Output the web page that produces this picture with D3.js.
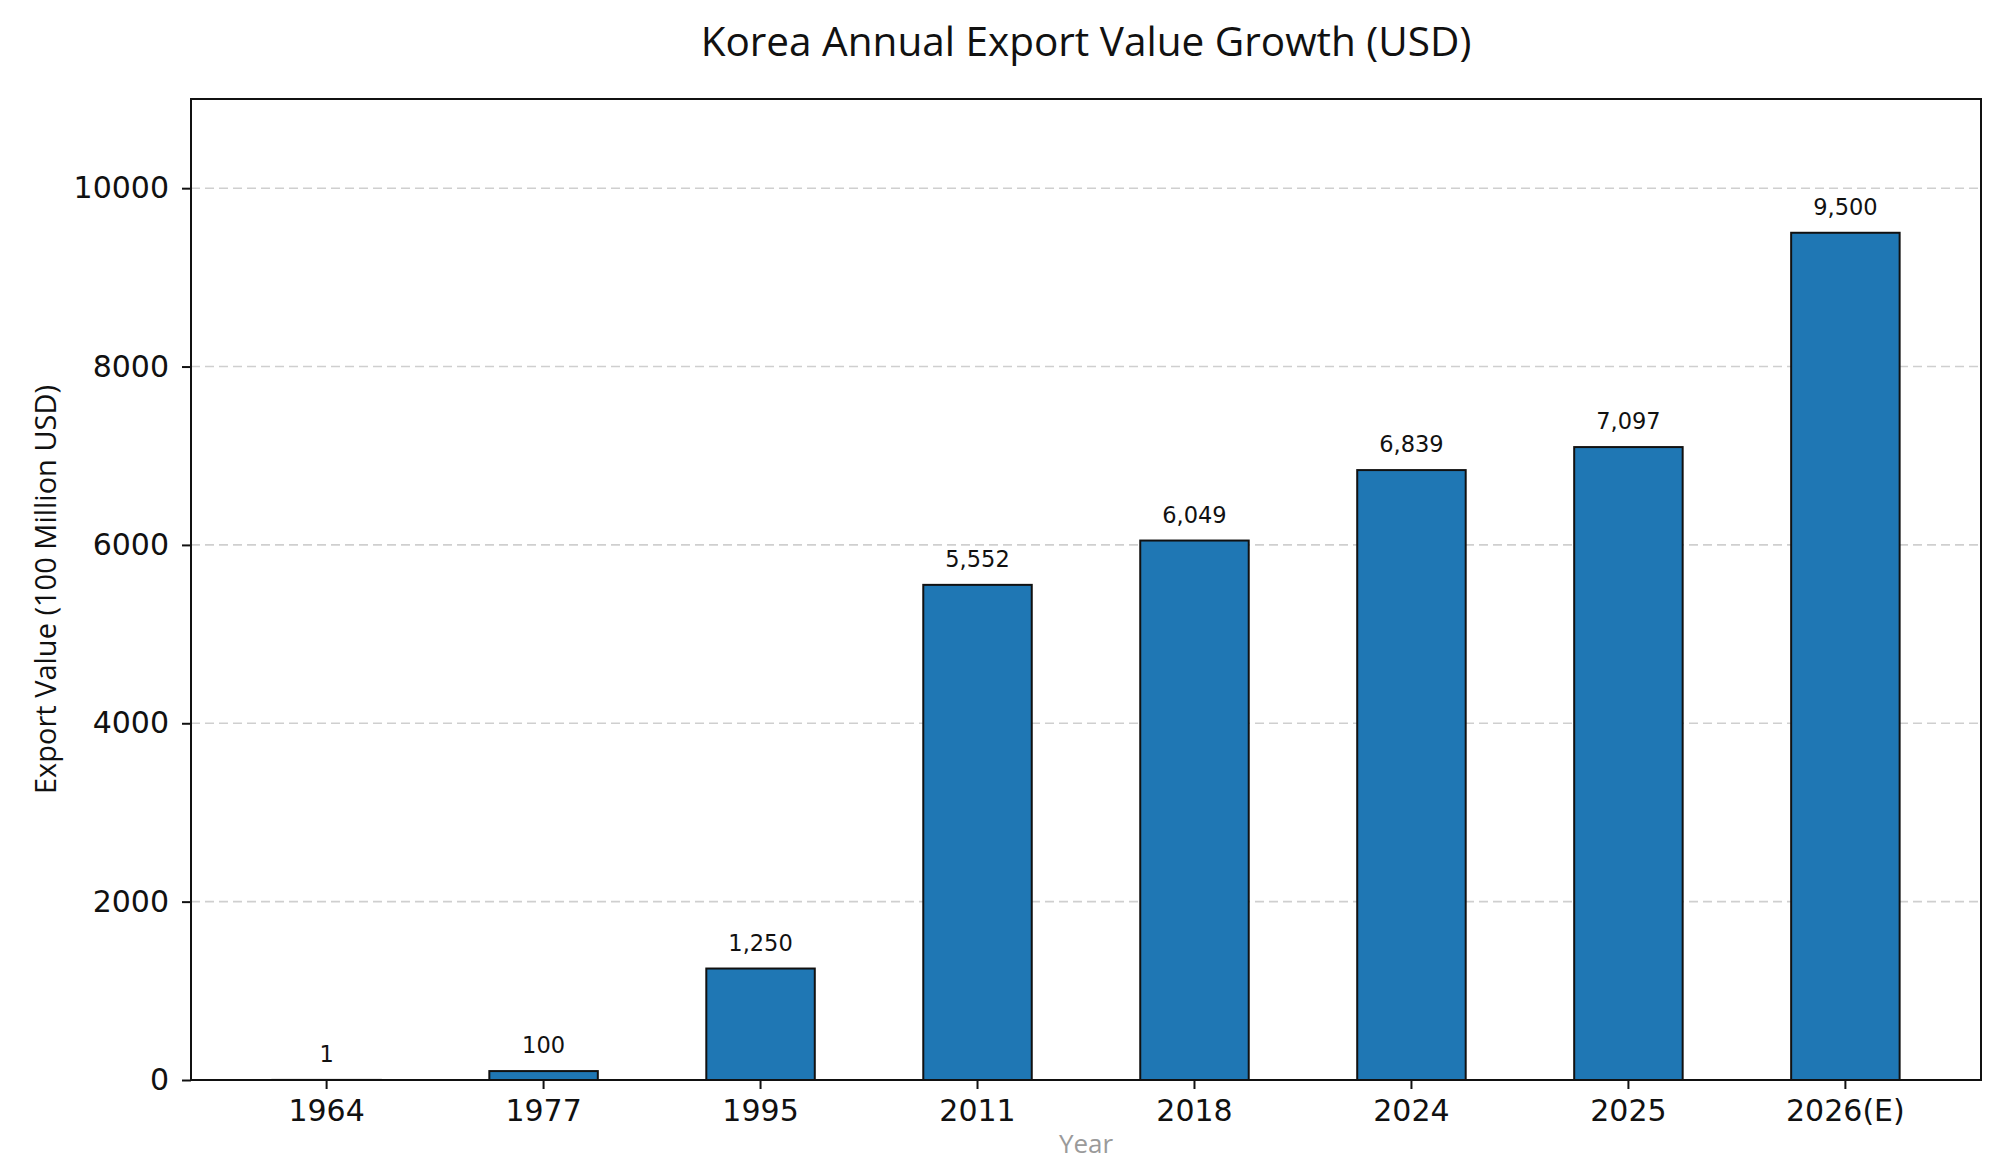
<!DOCTYPE html>
<html>
<head>
<meta charset="utf-8">
<script src="https://cdn.jsdelivr.net/npm/d3@7"></script>
<style>
  body { margin: 0; background: #fff; }
  svg { display: block; }
  svg text { font-family: "Open Sans", "Noto Sans", sans-serif; }
  .tick text, .val { font-family: "DejaVu Sans", sans-serif; }
  .tick text { font-size: 30px; fill: #111; }
</style>
</head>
<body>
<div class="container"></div>
<script>
// chart data
const years = ["1964", "1977", "1995", "2011", "2018", "2024", "2025", "2026(E)"];
const exportValues = [1, 100, 1250, 5552, 6049, 6839, 7097, 9500];
const yTicks = [0, 2000, 4000, 6000, 8000, 10000];

const totalW = 2000,
  totalH = 1162;
const margin = { top: 99, right: 19, bottom: 82, left: 191 },
  width = totalW - margin.left - margin.right,
  height = totalH - margin.top - margin.bottom;

const data = years.map((y, i) => ({ year: y, value: exportValues[i] }));

const svg = d3
  .select(".container")
  .append("svg")
  .attr("width", totalW)
  .attr("height", totalH);

const g = svg
  .append("g")
  .attr("transform", `translate(${margin.left}, ${margin.top})`);

const xScale = d3
  .scaleBand()
  .domain(years)
  .range([0, width])
  .paddingInner(0.5)
  .paddingOuter(0.375);

const yScale = d3.scaleLinear().domain([0, 11000]).range([height, 0]);

// dashed grid
g.selectAll(".grid")
  .data(yTicks)
  .join("line")
  .attr("class", "grid")
  .attr("x1", 0)
  .attr("x2", width)
  .attr("y1", (d) => yScale(d))
  .attr("y2", (d) => yScale(d))
  .attr("stroke", "#cfcfcf")
  .attr("stroke-width", 1.6)
  .attr("stroke-dasharray", "9,5");

// bars
g.selectAll(".bar")
  .data(data)
  .join("rect")
  .attr("class", "bar")
  .attr("x", (d) => xScale(d.year))
  .attr("y", (d) => yScale(d.value))
  .attr("width", xScale.bandwidth())
  .attr("height", (d) => height - yScale(d.value))
  .attr("fill", "#1f77b4")
  .attr("stroke", "#111")
  .attr("stroke-width", 2);

// value labels
g.selectAll(".val")
  .data(data)
  .join("text")
  .attr("class", "val")
  .attr("x", (d) => xScale(d.year) + xScale.bandwidth() / 2)
  .attr("y", (d) => yScale(d.value) - 18)
  .attr("text-anchor", "middle")
  .style("font-size", "22.5px")
  .style("fill", "#111")
  .text((d) => d3.format(",")(d.value));

// axes
const xAxis = g
  .append("g")
  .attr("transform", `translate(0, ${height})`)
  .call(d3.axisBottom(xScale).tickSize(9).tickPadding(11));
xAxis.select(".domain").remove();
xAxis.selectAll(".tick line").attr("stroke", "#111").attr("stroke-width", 2);

const yAxis = g
  .append("g")
  .call(d3.axisLeft(yScale).tickValues(yTicks).tickFormat(d3.format("d")).tickSize(9).tickPadding(13));
yAxis.select(".domain").remove();
yAxis.selectAll(".tick line").attr("stroke", "#111").attr("stroke-width", 2);

// frame
g.append("rect")
  .attr("width", width)
  .attr("height", height)
  .attr("fill", "none")
  .attr("stroke", "#111")
  .attr("stroke-width", 2);

// title
svg
  .append("text")
  .attr("x", margin.left + width / 2)
  .attr("y", 56)
  .attr("text-anchor", "middle")
  .style("font-size", "40.5px")
  .style("fill", "#111")
  .text("Korea Annual Export Value Growth (USD)");

// axis labels
svg
  .append("text")
  .attr("transform", "rotate(-90)")
  .attr("x", -(margin.top + height / 2))
  .attr("y", 56)
  .attr("text-anchor", "middle")
  .style("font-size", "29px")
  .style("fill", "#111")
  .text("Export Value (100 Million USD)");

svg
  .append("text")
  .attr("x", margin.left + width / 2)
  .attr("y", 1153)
  .attr("text-anchor", "middle")
  .style("font-size", "26px")
  .style("fill", "#9a9a9a")
  .text("Year");
</script>
</body>
</html>
